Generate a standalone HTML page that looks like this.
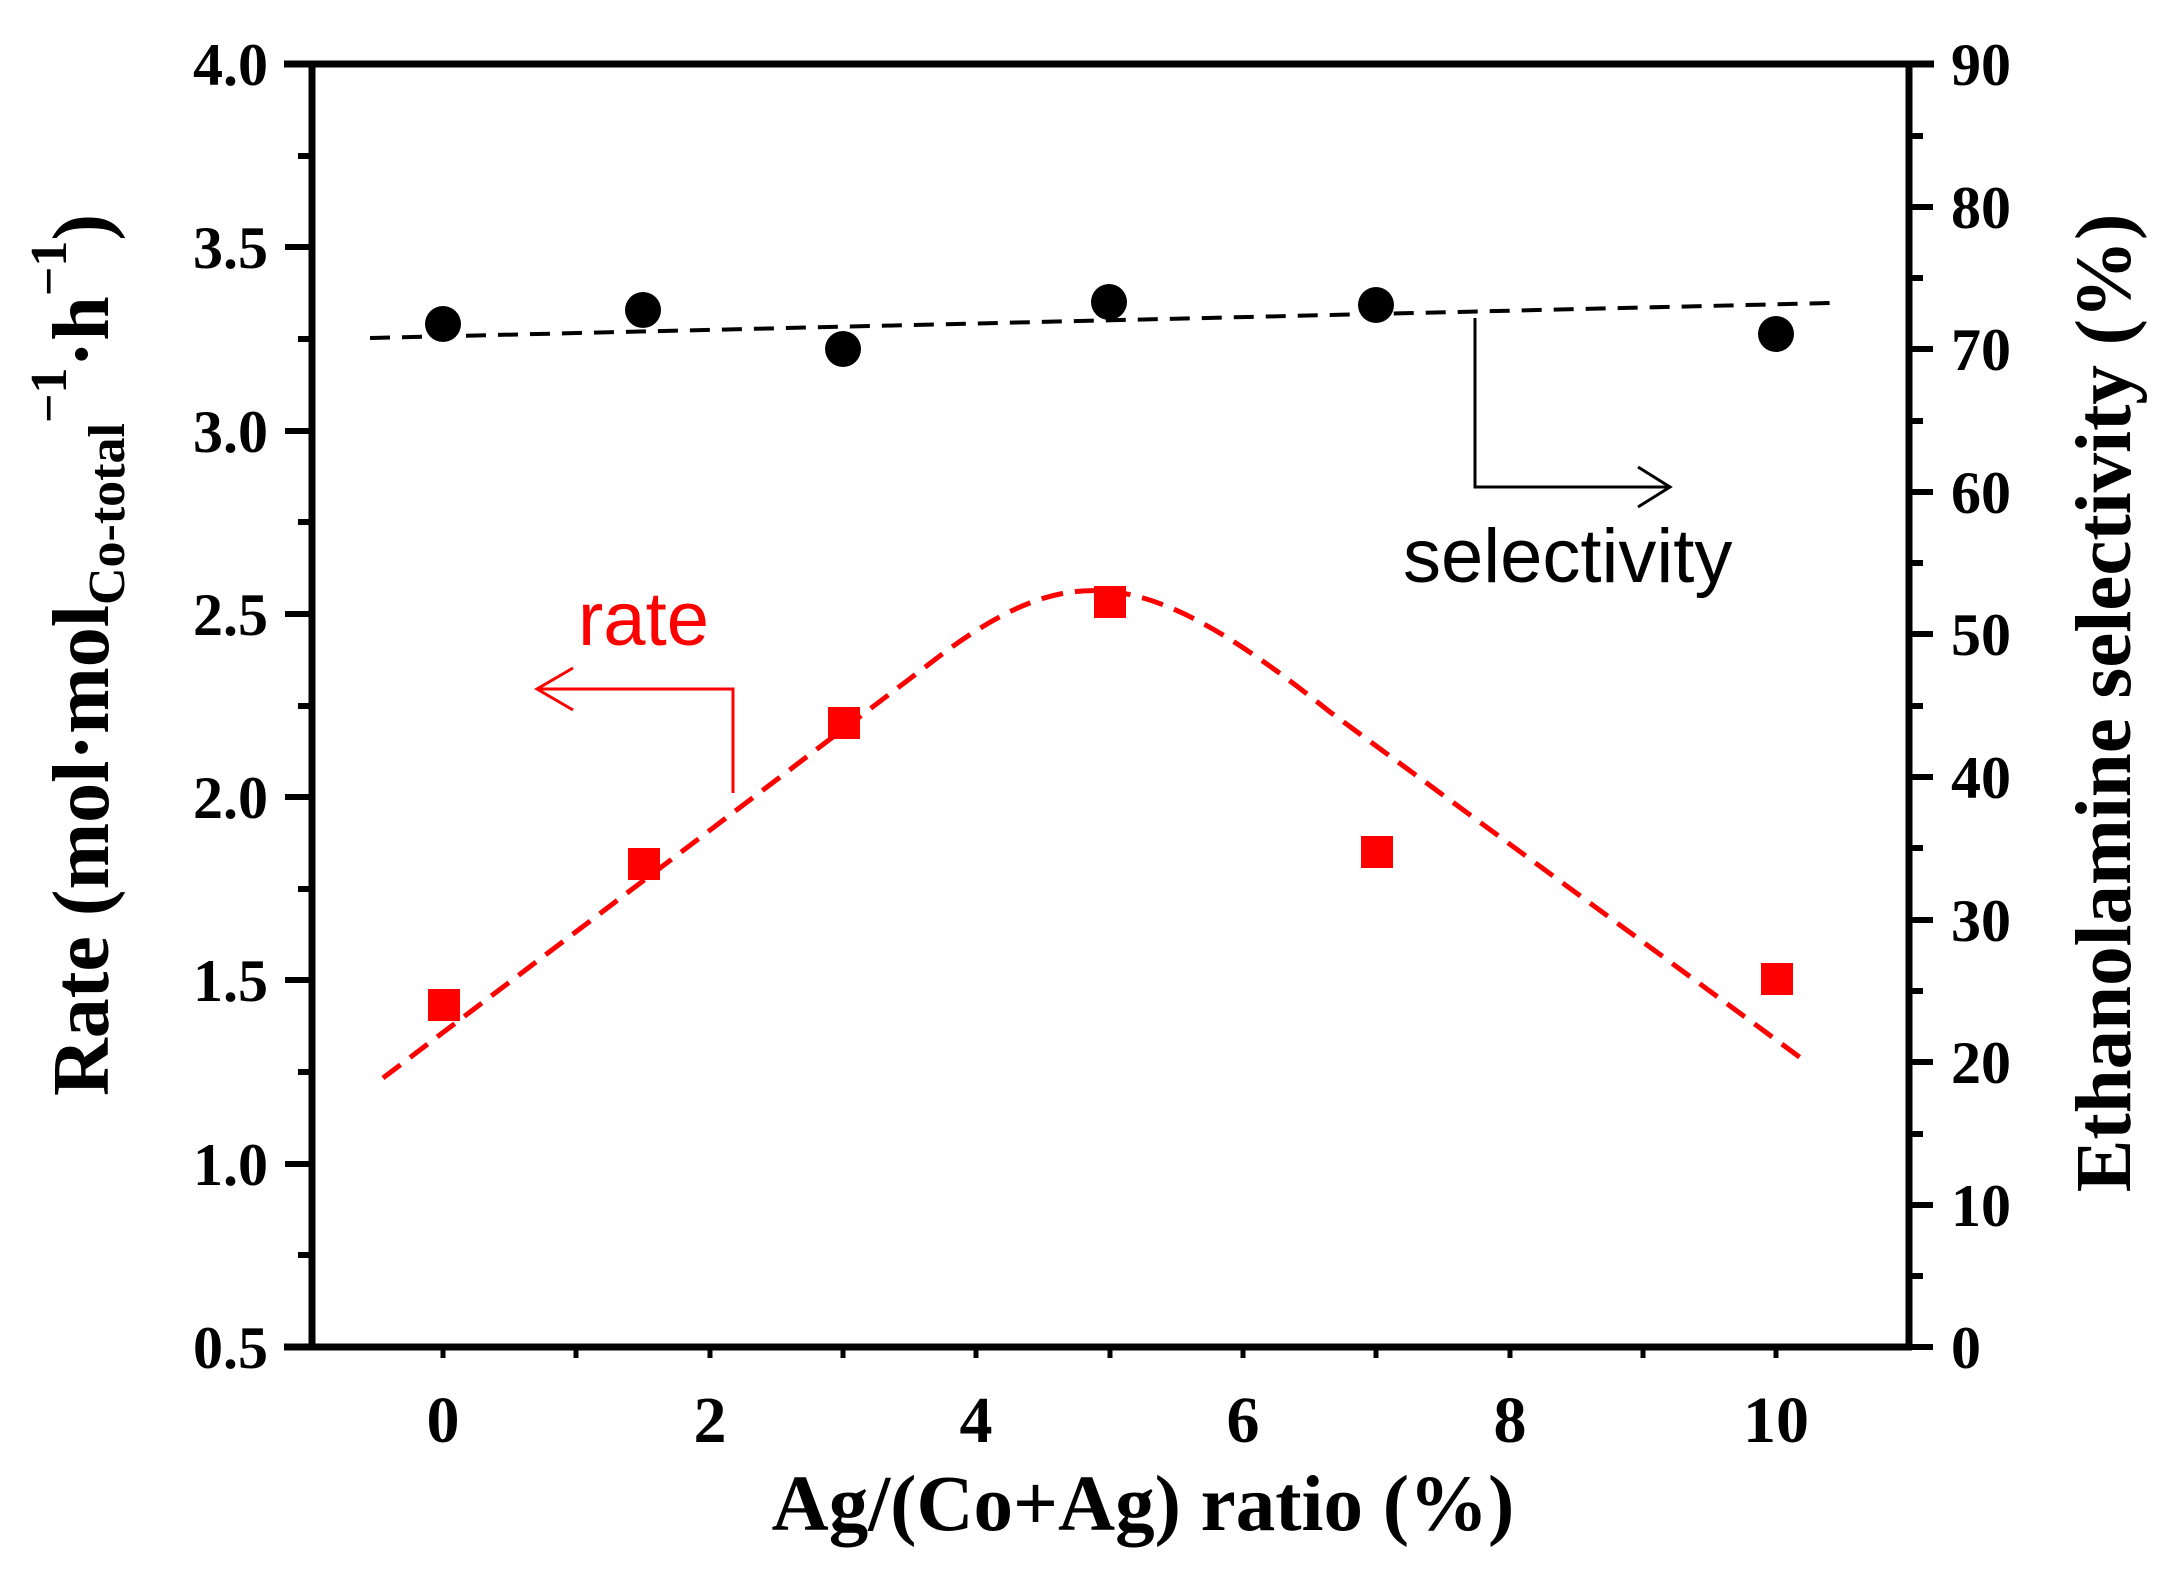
<!DOCTYPE html>
<html><head><meta charset="utf-8"><style>
html,body{margin:0;padding:0;background:#fff}
svg{display:block}
.tk{font-family:"Liberation Serif",serif;font-weight:bold;font-size:60px;fill:#000}
.ti{font-family:"Liberation Serif",serif;font-weight:bold;fill:#000}
.an{font-family:"Liberation Sans",sans-serif;font-size:76px}
</style></head><body>
<svg width="2171" height="1588" viewBox="0 0 2171 1588" xmlns="http://www.w3.org/2000/svg">
<rect width="2171" height="1588" fill="#fff"/>
<g stroke="#000" stroke-width="7" fill="none">
<line x1="312" y1="61" x2="312" y2="1350"/>
<line x1="1909" y1="61" x2="1909" y2="1350"/>
<line x1="284" y1="64" x2="1934" y2="64"/>
<line x1="284" y1="1347" x2="1912" y2="1347"/>
</g>
<g stroke="#000" stroke-width="6">
<line x1="285" y1="64" x2="312" y2="64"/><line x1="285" y1="247" x2="312" y2="247"/>
<line x1="285" y1="431" x2="312" y2="431"/><line x1="285" y1="614" x2="312" y2="614"/>
<line x1="285" y1="797" x2="312" y2="797"/><line x1="285" y1="980" x2="312" y2="980"/>
<line x1="285" y1="1164" x2="312" y2="1164"/><line x1="285" y1="1347" x2="312" y2="1347"/>
<line x1="298" y1="156" x2="312" y2="156"/><line x1="298" y1="339" x2="312" y2="339"/>
<line x1="298" y1="522" x2="312" y2="522"/><line x1="298" y1="706" x2="312" y2="706"/>
<line x1="298" y1="889" x2="312" y2="889"/><line x1="298" y1="1072" x2="312" y2="1072"/>
<line x1="298" y1="1255" x2="312" y2="1255"/>
<line x1="1909" y1="64" x2="1933" y2="64"/><line x1="1909" y1="207" x2="1933" y2="207"/>
<line x1="1909" y1="349" x2="1933" y2="349"/><line x1="1909" y1="492" x2="1933" y2="492"/>
<line x1="1909" y1="634" x2="1933" y2="634"/><line x1="1909" y1="777" x2="1933" y2="777"/>
<line x1="1909" y1="920" x2="1933" y2="920"/><line x1="1909" y1="1062" x2="1933" y2="1062"/>
<line x1="1909" y1="1205" x2="1933" y2="1205"/><line x1="1909" y1="1347" x2="1933" y2="1347"/>
<line x1="1909" y1="136" x2="1923" y2="136"/><line x1="1909" y1="278" x2="1923" y2="278"/>
<line x1="1909" y1="421" x2="1923" y2="421"/><line x1="1909" y1="563" x2="1923" y2="563"/>
<line x1="1909" y1="706" x2="1923" y2="706"/><line x1="1909" y1="848" x2="1923" y2="848"/>
<line x1="1909" y1="991" x2="1923" y2="991"/><line x1="1909" y1="1134" x2="1923" y2="1134"/>
<line x1="1909" y1="1276" x2="1923" y2="1276"/>
</g>
<g stroke="#000" stroke-width="5">
<line x1="443" y1="1347" x2="443" y2="1358"/><line x1="576" y1="1347" x2="576" y2="1358"/>
<line x1="710" y1="1347" x2="710" y2="1358"/><line x1="843" y1="1347" x2="843" y2="1358"/>
<line x1="976" y1="1347" x2="976" y2="1358"/><line x1="1110" y1="1347" x2="1110" y2="1358"/>
<line x1="1243" y1="1347" x2="1243" y2="1358"/><line x1="1376" y1="1347" x2="1376" y2="1358"/>
<line x1="1510" y1="1347" x2="1510" y2="1358"/><line x1="1643" y1="1347" x2="1643" y2="1358"/>
<line x1="1776" y1="1347" x2="1776" y2="1358"/>
</g>
<g class="tk" text-anchor="end">
<text x="268" y="85">4.0</text><text x="268" y="268">3.5</text><text x="268" y="452">3.0</text>
<text x="268" y="635">2.5</text><text x="268" y="818">2.0</text><text x="268" y="1001">1.5</text>
<text x="268" y="1185">1.0</text><text x="268" y="1368">0.5</text>
</g>
<g class="tk" text-anchor="start">
<text x="1951" y="85">90</text><text x="1951" y="228">80</text><text x="1951" y="370">70</text>
<text x="1951" y="513">60</text><text x="1951" y="655">50</text><text x="1951" y="798">40</text>
<text x="1951" y="941">30</text><text x="1951" y="1083">20</text><text x="1951" y="1226">10</text>
<text x="1951" y="1368">0</text>
</g>
<g class="tk" text-anchor="middle" style="font-size:66px">
<text x="443" y="1442">0</text><text x="710" y="1442">2</text>
<text x="976" y="1442">4</text><text x="1243" y="1442">6</text>
<text x="1510" y="1442">8</text><text x="1776" y="1442">10</text>
</g>
<text class="ti" x="1143" y="1530" text-anchor="middle" font-size="79">Ag/(Co+Ag) ratio (%)</text>
<text class="ti" transform="translate(2130,703) rotate(-90)" text-anchor="middle" font-size="79">Ethanolamine selectivity (%)</text>
<text class="ti" transform="translate(108,655) rotate(-90)" text-anchor="middle" font-size="80">Rate (mol·mol<tspan font-size="52" dy="16">Co-total</tspan><tspan font-size="52" dy="-58">−1</tspan><tspan dy="42">·h</tspan><tspan font-size="52" dy="-42">−1</tspan><tspan dy="42">)</tspan></text>
<path d="M370,338 L1831,303" stroke="#000" stroke-width="4" stroke-dasharray="20,12" fill="none"/>
<path d="M383,1078 L924,668 C1010,600 1060,588 1106,591 C1170,596 1240,640 1330,712 L1809,1064" stroke="#f00" stroke-width="5" stroke-dasharray="22,12" fill="none"/>
<g fill="#000">
<circle cx="443" cy="324" r="18"/><circle cx="643" cy="310" r="18"/><circle cx="843" cy="349" r="18"/>
<circle cx="1109" cy="302" r="18"/><circle cx="1376" cy="305" r="18"/><circle cx="1776" cy="334" r="18"/>
</g>
<g fill="#f00">
<rect x="428" y="989" width="32" height="32"/><rect x="628" y="848" width="32" height="32"/>
<rect x="828" y="707" width="32" height="32"/><rect x="1094" y="586" width="32" height="32"/>
<rect x="1361" y="836" width="32" height="32"/><rect x="1761" y="963" width="32" height="32"/>
</g>
<g stroke="#000" stroke-width="3" fill="none">
<path d="M1475,318 L1475,487 L1669,487"/><path d="M1638,467 L1670,487 L1638,507"/>
</g>
<text class="an" x="1403" y="582" fill="#000">selectivity</text>
<g stroke="#f00" stroke-width="3" fill="none">
<path d="M733,793 L733,689 L537,689"/><path d="M573,668 L537,689 L573,710"/>
</g>
<text class="an" x="578" y="645" fill="#f00">rate</text>
</svg>
</body></html>
